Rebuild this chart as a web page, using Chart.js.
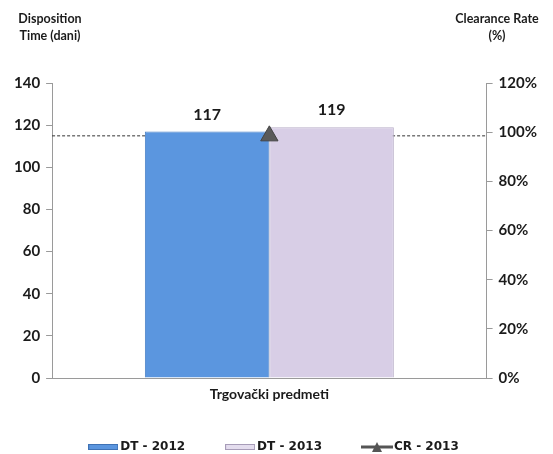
<!DOCTYPE html>
<html>
<head>
<meta charset="utf-8">
<script src="https://cdn.jsdelivr.net/npm/chart.js@4.4.1/dist/chart.umd.min.js"></script>
<style>
  html, body { margin: 0; padding: 0; background: #fff; }
  #wrap { width: 553px; height: 454px; }
</style>
</head>
<body>
<div id="wrap"><canvas id="chart"></canvas></div>
<script>
const categories = ['Trgovački predmeti'];
const dt2012 = [117];
const dt2013 = [119];
const cr2013 = [98.5];
const leftTicks = [0, 20, 40, 60, 80, 100, 120, 140];
const rightTicks = [0, 20, 40, 60, 80, 100, 120];

const FONT = 'Lato, "DejaVu Sans", sans-serif';
const TXT = '#1b1b1b';

// legend markers
function swatch(fill, edge) {
  const c = document.createElement('canvas');
  c.width = 30; c.height = 8;
  const g = c.getContext('2d');
  g.fillStyle = fill; g.fillRect(0, 1, 30, 6);
  g.strokeStyle = edge; g.lineWidth = 1; g.strokeRect(0.5, 1.5, 29, 5);
  return c;
}
function crMarker() {
  const c = document.createElement('canvas');
  c.width = 32; c.height = 12;
  const g = c.getContext('2d');
  g.strokeStyle = '#555'; g.lineWidth = 3;
  g.beginPath(); g.moveTo(0, 6); g.lineTo(32, 6); g.stroke();
  g.fillStyle = '#555';
  g.beginPath(); g.moveTo(16, 1); g.lineTo(21, 11); g.lineTo(11, 11); g.closePath(); g.fill();
  return c;
}

const headers = {
  id: 'headers',
  afterDraw(chart) {
    const ctx = chart.ctx;
    ctx.save();
    ctx.fillStyle = TXT;
    ctx.font = 'bold 12.5px ' + FONT;
    ctx.textAlign = 'center';
    ctx.textBaseline = 'middle';
    ctx.fillText('Disposition', 50, 19);
    ctx.fillText('Time (dani)', 50, 36);
    ctx.fillText('Clearance Rate', 497, 19);
    ctx.fillText('(%)', 497, 36);
    ctx.restore();
  }
};

const crLine = {
  id: 'crLine',
  beforeDatasetsDraw(chart) {
    const ctx = chart.ctx, a = chart.chartArea;
    const y = chart.scales.y1.getPixelForValue(cr2013[0]);
    ctx.save();
    ctx.strokeStyle = '#333';
    ctx.lineWidth = 1;
    ctx.setLineDash([3, 2]);
    ctx.beginPath(); ctx.moveTo(a.left, y); ctx.lineTo(a.right, y); ctx.stroke();
    ctx.restore();
  }
};

const barLabels = {
  id: 'barLabels',
  afterDatasetsDraw(chart) {
    const ctx = chart.ctx;
    ctx.save();
    ctx.fillStyle = TXT;
    ctx.font = 'bold 16px ' + FONT;
    ctx.textAlign = 'center';
    ctx.textBaseline = 'bottom';
    [0, 1].forEach(i => {
      const meta = chart.getDatasetMeta(i);
      meta.data.forEach((el, j) => {
        ctx.fillText(String(chart.data.datasets[i].data[j]), el.x, el.y - 9);
      });
    });
    ctx.restore();
  }
};

new Chart(document.getElementById('chart'), {
  type: 'bar',
  data: {
    labels: categories,
    datasets: [
      {
        label: 'DT - 2012',
        data: dt2012,
        backgroundColor: '#5B96DF',
        borderColor: '#4A80C6',
        borderWidth: 1,
        yAxisID: 'y',
        order: 2,
        pointStyle: swatch('#5B96DF', '#3f72b5')
      },
      {
        label: 'DT - 2013',
        data: dt2013,
        backgroundColor: '#D8CEE6',
        borderColor: '#B8AEC8',
        borderWidth: 1,
        yAxisID: 'y',
        order: 2,
        pointStyle: swatch('#E4DDEE', '#A79CB8')
      },
      {
        type: 'line',
        label: 'CR - 2013',
        data: cr2013,
        yAxisID: 'y1',
        order: 1,
        borderColor: '#555',
        backgroundColor: '#555',
        pointStyle: 'triangle',
        pointRadius: 10,
        pointBackgroundColor: '#5a5a5a',
        pointBorderColor: '#444',
        showLine: false
      }
    ]
  },
  options: {
    responsive: true,
    maintainAspectRatio: false,
    animation: false,
    layout: { padding: { top: 83, left: 8, right: 10, bottom: -9 } },
    datasets: { bar: { categoryPercentage: 0.573, barPercentage: 1 } },
    plugins: {
      tooltip: { enabled: false },
      legend: {
        position: 'bottom',
        labels: {
          usePointStyle: true,
          pointStyleWidth: 22,
          color: TXT,
          font: { family: '"DejaVu Sans", sans-serif', size: 12, weight: 'bold' },
          padding: 44,
          sort: (a, b) => a.datasetIndex - b.datasetIndex,
          generateLabels(chart) {
            const items = Chart.defaults.plugins.legend.labels.generateLabels(chart);
            items.forEach(it => { if (it.datasetIndex === 2) it.pointStyle = crMarker(); });
            return items;
          }
        }
      }
    },
    scales: {
      x: {
        grid: { display: false },
        border: { color: '#9a9a9a' },
        afterFit(s) { s.height = 19; },
        ticks: { display: false },
        title: {
          display: true,
          text: categories[0],
          color: TXT,
          font: { family: FONT, size: 14, weight: 'bold' },
          padding: { top: 0, bottom: -6 }
        }
      },
      y: {
        position: 'left',
        min: 0, max: 140,
        afterBuildTicks(s) { s.ticks = leftTicks.map(v => ({ value: v })); },
        grid: { drawOnChartArea: false, color: '#9a9a9a', tickLength: 6 },
        border: { color: '#9a9a9a' },
        ticks: { color: TXT, font: { family: FONT, size: 15, weight: 'bold' }, padding: 6 }
      },
      y1: {
        position: 'right',
        min: 0, max: 120,
        afterBuildTicks(s) { s.ticks = rightTicks.map(v => ({ value: v })); },
        grid: { drawOnChartArea: false, color: '#9a9a9a', tickLength: 6 },
        border: { color: '#9a9a9a' },
        ticks: {
          color: TXT, font: { family: FONT, size: 15, weight: 'bold' }, padding: 6,
          callback: v => v + '%'
        }
      }
    }
  },
  plugins: [headers, crLine, barLabels]
});
</script>
</body>
</html>
